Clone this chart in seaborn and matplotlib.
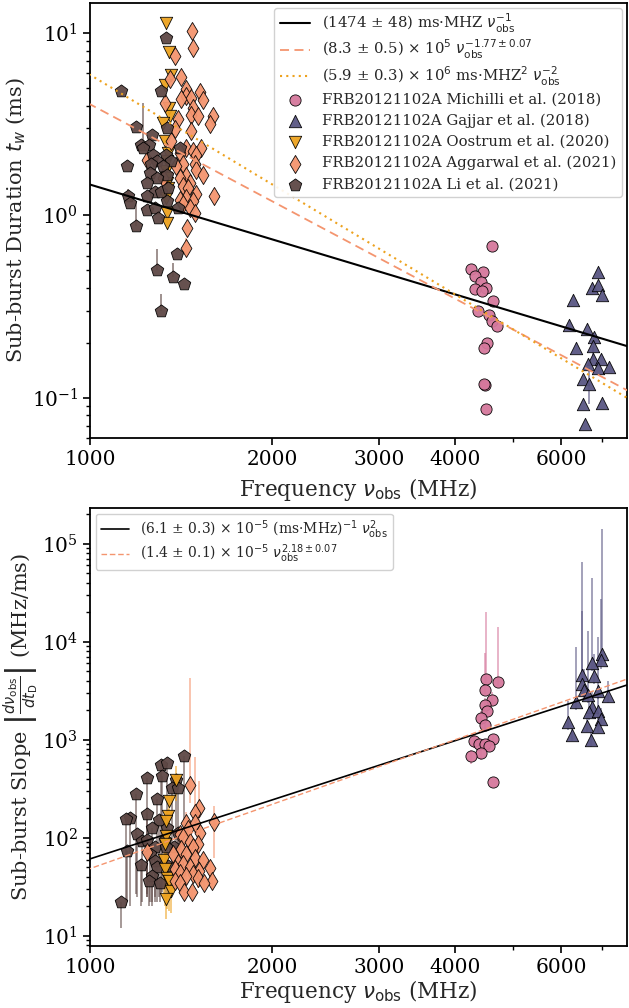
import numpy as np
import matplotlib
matplotlib.use("Agg")
import matplotlib.pyplot as plt
import matplotlib.ticker as mticker
import seaborn as sns

# ---------------- data: sub-burst duration (ms) ----------------
mich_f_tw = [4606, 4255, 4446, 4314, 4425, 4502, 4325, 4435, 4634, 4368, 4549, 4606, 4693, 4519, 4475, 4480, 4470, 4502]
mich_tw = [0.681, 0.509, 0.489, 0.462, 0.430, 0.399, 0.396, 0.382, 0.337, 0.297, 0.282, 0.262, 0.246, 0.199, 0.187, 0.117, 0.119, 0.086]

gaj_f_tw = [6886, 6729, 6886, 6988, 6259, 6173, 6600, 6793, 6331, 6753, 6753, 6970, 6641, 6886, 7185, 6501, 6667, 6501, 6988, 6561]
gaj_tw = [0.489, 0.399, 0.416, 0.363, 0.344, 0.249, 0.238, 0.216, 0.188, 0.191, 0.163, 0.163, 0.152, 0.145, 0.147, 0.127, 0.118, 0.092, 0.093, 0.072]
gaj_tw_lo = [0, 0, 0, 0, 0, 0, 0, 0, 0, 0, 0, 0, 0, 0, 0, 0, 0.026, 0, 0, 0]
gaj_tw_hi = [0, 0, 0, 0, 0, 0, 0, 0, 0, 0, 0.028, 0, 0, 0, 0, 0, 0.027, 0, 0, 0]

oos_f_tw = [1337, 1350, 1360, 1328, 1350, 1354, 1320, 1328, 1345, 1340, 1337, 1335, 1340, 1345, 1337, 1340, 1340]
oos_tw = [11.4, 7.9, 5.9, 5.2, 3.9, 3.5, 3.2, 2.55, 2.2, 1.98, 1.75, 1.6, 1.5, 1.41, 1.24, 1.03, 0.91]

agg_f_tw = [1476, 1479, 1384, 1415, 1354, 1442, 1521, 1442, 1470, 1415, 1536, 1328, 1479, 1470, 1507, 1596,
            1397, 1581, 1380, 1470, 1362, 1442, 1527, 1479, 1406, 1498, 1240, 1424, 1488, 1389, 1498, 1536,
            1442, 1406, 1320, 1460, 1424, 1451, 1498, 1601, 1442, 1406, 1479, 1424, 1460, 1488, 1446, 1438]
agg_tw = [10.3, 8.24, 7.48, 5.73, 5.57, 4.91, 4.76, 4.51, 4.42, 4.32, 4.28, 4.14, 3.89, 3.57, 3.50, 3.50,
          3.36, 3.15, 2.96, 2.89, 2.55, 2.34, 2.34, 2.25, 2.20, 2.15, 2.02, 1.90, 1.90, 1.86, 1.78, 1.67,
          1.64, 1.60, 1.60, 1.50, 1.44, 1.41, 1.30, 1.27, 1.24, 1.22, 1.19, 1.15, 1.10, 1.03, 0.85, 0.66]
agg_tw_hi = [0, 0, 0, 0, 0, 0, 0, 0, 0, 0, 0, 0, 0, 0, 0, 0,
             0, 0, 0, 0.5, 0, 0, 0, 0, 0, 0, 0, 0, 0, 0, 0, 0,
             0, 0, 0, 0, 0.25, 0, 0, 0, 0, 0, 0, 0, 0, 0, 0, 0.09]

li_f_tw = [1334, 1127, 1309, 1193, 1340, 1268, 1216, 1250, 1224, 1271, 1337, 1406, 1288, 1362, 1263, 1153,
           1320, 1255, 1340, 1288, 1240, 1279, 1312, 1345, 1156, 1164, 1240, 1340, 1240, 1279, 1397, 1193,
           1295, 1392, 1288, 1371, 1428, 1309]
li_tw = [9.35, 4.80, 4.80, 3.06, 3.02, 2.77, 2.44, 2.44, 2.34, 2.15, 2.15, 2.34, 1.98, 1.98, 1.90, 1.86,
         1.86, 1.71, 1.67, 1.60, 1.50, 1.35, 1.35, 1.41, 1.27, 1.17, 1.27, 1.19, 1.07, 1.10, 1.10, 0.87,
         0.97, 0.61, 0.50, 0.46, 0.42, 0.30]
li_tw_hi = [0, 0, 0, 0, 0, 0, 0, 0, 1.8, 0, 0, 0, 0, 0, 0, 0,
            0, 0, 0, 0, 0, 0, 0, 0, 0.12, 0, 0, 0, 0, 0, 0, 0.32,
            0, 0, 0.15, 0.09, 0, 0.07]

# ---------------- data: sub-burst slope (MHz/ms) ----------------
mich_f_sl = [4502, 4706, 4480, 4606, 4480, 4519, 4425, 4480, 4634, 4308, 4379, 4491, 4549, 4418, 4255, 4618]
mich_sl = [4160, 3845, 3213, 2541, 2275, 1977, 1663, 1412, 1007, 977, 903, 903, 868, 725, 687, 373]
mich_sl_lo = [400, 300, 300, 250, 200, 200, 150, 150, 150, 150, 120, 120, 120, 100, 120, 0]
mich_sl_hi = [15700, 10200, 4400, 500, 400, 300, 300, 200, 150, 150, 100, 100, 100, 100, 100, 0]

gaj_f_sl = [6988, 6970, 6745, 6493, 6793, 6493, 6543, 6641, 6886, 7164, 6331, 6729, 6651, 6886, 6970, 6158, 6600, 6886, 6252, 6714]
gaj_sl = [7480, 6500, 6010, 4605, 4500, 3700, 3213, 2877, 3112, 2766, 2403, 2172, 1900, 1945, 1626, 1503, 1390, 1358, 1117, 1000]
gaj_sl_lo = [1500, 1200, 1000, 900, 800, 700, 600, 500, 500, 400, 400, 300, 300, 300, 250, 250, 200, 200, 150, 150]
gaj_sl_hi = [132500, 20800, 39000, 60400, 3000, 17000, 2000, 10000, 7960, 1234, 6350, 1000, 800, 800, 500, 1000, 400, 400, 200, 200]

oos_f_sl = [1385, 1350, 1345, 1337, 1334, 1328, 1323, 1328, 1340, 1350, 1362, 1337]
oos_sl = [390, 235, 168, 149, 105, 86, 60, 48, 39, 36, 29, 24]
oos_sl_lo = [150, 100, 80, 70, 60, 50, 35, 28, 20, 18, 12, 9]
oos_sl_hi = [150, 40, 30, 20, 15, 12, 10, 8, 6, 6, 5, 4]

agg_f_sl = [1460, 1512, 1488, 1601, 1442, 1488, 1451, 1521, 1406, 1424, 1460, 1507, 1479, 1415, 1240, 1371,
            1442, 1488, 1536, 1397, 1424, 1460, 1579, 1380, 1516, 1406, 1479, 1442, 1507, 1380, 1591, 1540,
            1406, 1428, 1476]
agg_sl = [347, 201, 181, 146, 143, 143, 123, 113, 109, 101, 90, 86, 80, 77, 71, 68,
          68, 63, 60, 56, 54, 50, 49, 48, 46, 44, 43, 41, 39, 36, 36, 35,
          35, 28, 28]
agg_sl_lo = [120, 50, 40, 83, 30, 30, 25, 25, 20, 20, 18, 18, 15, 15, 12, 12,
             12, 12, 12, 10, 10, 10, 10, 10, 8, 8, 8, 8, 8, 6, 6, 6,
             6, 5, 5]
agg_sl_hi = [3950, 180, 480, 66, 40, 30, 30, 20, 20, 20, 15, 15, 15, 15, 12, 12,
             12, 10, 10, 10, 10, 8, 8, 8, 8, 8, 8, 6, 6, 6, 6, 6,
             6, 5, 5]

li_f_sl = [1428, 1309, 1342, 1317, 1240, 1389, 1368, 1397, 1193, 1288, 1164, 1149, 1240, 1300, 1268, 1340,
           1196, 1397, 1221, 1240, 1374, 1279, 1153, 1255, 1328, 1337, 1216, 1279, 1345, 1288, 1268, 1250,
           1304, 1127]
li_sl = [687, 556, 578, 429, 403, 391, 326, 321, 279, 248, 159, 155, 177, 151, 127, 127,
         109, 111, 92, 95, 81, 80, 74, 69, 95, 80, 53, 58, 52, 50, 41, 36,
         35, 22]
li_sl_end = [110, 27, 30, 28, 27, 60, 30, 45, 27, 30, 20, 20, 25, 25, 22, 30,
             25, 40, 22, 25, 30, 25, 22, 22, 30, 28, 20, 22, 25, 22, 20, 20,
             22, 12]

nu_fit = np.geomspace(900, 8500, 200)

c_mich = "#d5789c"
c_gaj = "#5a5683"
c_oos = "#eda21f"
c_agg = "#f4956f"
c_li = "#5e4845"

sns.set_style("ticks")
plt.rcParams["font.family"] = ["DejaVu Serif"]
plt.rcParams["mathtext.fontset"] = "dejavusans"
plt.rcParams["axes.edgecolor"] = "black"
plt.rcParams["xtick.color"] = "black"
plt.rcParams["ytick.color"] = "black"
plt.rcParams["axes.linewidth"] = 1.3


def squeeze_math_rows(leg, n_rows, shrink):
    # math labels (sub + superscript) come out taller than plain text rows; trim them
    col = leg._legend_handle_box.get_children()[0]
    for row in col.get_children()[:n_rows]:
        ta = row.get_children()[1]
        orig = ta.get_bbox

        def short_bbox(renderer, _orig=orig):
            bb = _orig(renderer)
            return matplotlib.transforms.Bbox.from_bounds(bb.x0, bb.y0 + shrink * 0.45,
                                                          bb.width, bb.height - shrink)
        ta.get_bbox = short_bbox


fig = plt.figure(figsize=(6.29, 10.08), dpi=100)
ax1 = fig.add_axes([0.143, 0.5655, 0.854, 0.4315])
ax2 = fig.add_axes([0.143, 0.0615, 0.854, 0.4345])

sets_tw = [
    (mich_f_tw, mich_tw, None, None, c_mich, "o", 65, "FRB20121102A Michilli et al. (2018)"),
    (gaj_f_tw, gaj_tw, gaj_tw_lo, gaj_tw_hi, c_gaj, "^", 80, "FRB20121102A Gajjar et al. (2018)"),
    (oos_f_tw, oos_tw, None, None, c_oos, "v", 80, "FRB20121102A Oostrum et al. (2020)"),
    (agg_f_tw, agg_tw, None, agg_tw_hi, c_agg, "d", 85, "FRB20121102A Aggarwal et al. (2021)"),
    (li_f_tw, li_tw, None, li_tw_hi, c_li, "p", 90, "FRB20121102A Li et al. (2021)"),
]

ax1.plot(nu_fit, 1474 / nu_fit, color="black", lw=1.5,
         label=r"(1474 ± 48) ms·MHZ $\nu_\mathrm{obs}^{-1}$", zorder=4)
ax1.plot(nu_fit, 8.3e5 * nu_fit ** -1.77, color=c_agg, lw=1.3, ls=(0, (5, 3)),
         label=r"(8.3 ± 0.5) × 10$^5$ $\nu_\mathrm{obs}^{-1.77\pm0.07}$", zorder=4)
ax1.plot(nu_fit, 5.9e6 * nu_fit ** -2.0, color=c_oos, lw=1.5, ls=(0, (1, 2)),
         label=r"(5.9 ± 0.3) × 10$^6$ ms·MHZ$^2$ $\nu_\mathrm{obs}^{-2}$", zorder=4)

for f, v, lo, hi, col, mk, sz, lab in sets_tw:
    if hi is not None:
        lo_ = lo if lo is not None else [0] * len(v)
        ax1.errorbar(f, v, yerr=[lo_, hi], fmt="none", ecolor=col, alpha=0.7, lw=1.2, zorder=2)
    sns.scatterplot(x=f, y=v, ax=ax1, color=col, marker=mk, s=sz, edgecolor="black",
                    linewidth=0.6, alpha=0.95, label=lab, zorder=3)

ax1.set_xscale("log")
ax1.set_yscale("log")
ax1.set_xlim(1000, 7700)
ax1.set_ylim(0.06, 14.6)
ax1.set_xlabel(r"Frequency $\nu_\mathrm{obs}$ (MHz)", fontsize=15.5)
ax1.set_ylabel(r"Sub-burst Duration $t_w$ (ms)", fontsize=15)
leg1 = ax1.legend(loc="upper right", fontsize=10.7, framealpha=0.9, labelspacing=0.47,
                  borderaxespad=0.35)
squeeze_math_rows(leg1, 3, 4)

sets_sl = [
    (mich_f_sl, mich_sl, mich_sl_lo, mich_sl_hi, c_mich, "o", 65),
    (gaj_f_sl, gaj_sl, gaj_sl_lo, gaj_sl_hi, c_gaj, "^", 80),
    (li_f_sl, li_sl, [v - e for v, e in zip(li_sl, li_sl_end)], [0] * len(li_sl), c_li, "p", 90),
    (oos_f_sl, oos_sl, oos_sl_lo, oos_sl_hi, c_oos, "v", 80),
    (agg_f_sl, agg_sl, agg_sl_lo, agg_sl_hi, c_agg, "d", 85),
]

ax2.plot(nu_fit, 6.1e-5 * nu_fit ** 2, color="black", lw=1.2,
         label=r"(6.1 ± 0.3) × 10$^{-5}$ (ms·MHz)$^{-1}$ $\nu_\mathrm{obs}^{2}$", zorder=4)
ax2.plot(nu_fit, 1.4e-5 * nu_fit ** 2.18, color=c_agg, lw=1.0, ls=(0, (4, 2)),
         label=r"(1.4 ± 0.1) × 10$^{-5}$ $\nu_\mathrm{obs}^{2.18\pm0.07}$", zorder=4)

for f, v, lo, hi, col, mk, sz in sets_sl:
    ax2.errorbar(f, v, yerr=[lo, hi], fmt="none", ecolor=col, alpha=0.65, lw=1.2, zorder=2)
    sns.scatterplot(x=f, y=v, ax=ax2, color=col, marker=mk, s=sz, edgecolor="black",
                    linewidth=0.6, alpha=0.95, zorder=3, legend=False)

ax2.set_xscale("log")
ax2.set_yscale("log")
ax2.set_xlim(1000, 7700)
ax2.set_ylim(7.9, 2.3e5)
ax2.set_xlabel(r"Frequency $\nu_\mathrm{obs}$ (MHz)", fontsize=15.5)
ax2.set_ylabel(r"Sub-burst Slope $\left|\frac{d\nu_\mathrm{obs}}{dt_\mathrm{D}}\right|$ (MHz/ms)", fontsize=15)
leg2 = ax2.legend(loc="upper left", fontsize=10, framealpha=0.9, labelspacing=0.3,
                  borderaxespad=0.4)
squeeze_math_rows(leg2, 2, 2)

for ax in (ax1, ax2):
    ax.xaxis.set_major_locator(mticker.FixedLocator([1000, 2000, 3000, 4000, 6000]))
    ax.xaxis.set_major_formatter(mticker.FixedFormatter(["1000", "2000", "3000", "4000", "6000"]))
    ax.xaxis.set_minor_locator(mticker.FixedLocator([5000, 7000]))
    ax.xaxis.set_minor_formatter(mticker.NullFormatter())
    ax.tick_params(axis="both", which="major", labelsize=14.5, length=5, width=1.2)
    ax.tick_params(axis="both", which="minor", length=3, width=1.0)

# label positions as in the reference
ax1.yaxis.set_label_coords(-0.115, 0.5)
ax2.yaxis.set_label_coords(-0.092, 0.5)
ax1.xaxis.set_label_coords(0.5, -0.087)
ax2.xaxis.set_label_coords(0.5, -0.073)

fig.savefig("out.png", dpi=100)
